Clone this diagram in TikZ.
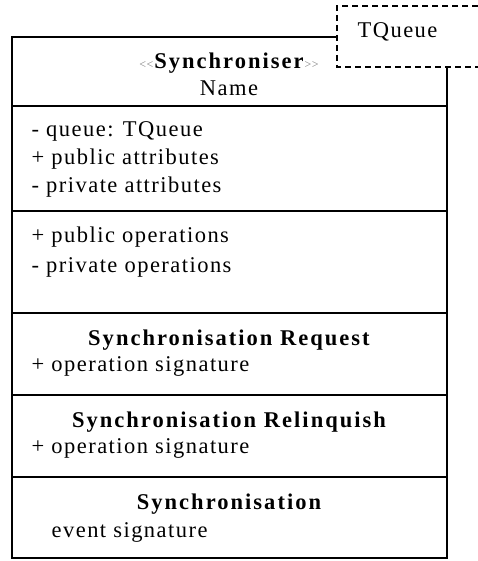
\documentclass[tikz,border=0pt]{standalone}
\usepackage{fontspec}
\setmainfont{Liberation Serif}[LetterSpace=6.5]
\newcommand{\stlq}{\textcolor{gray}{\fontsize{12}{13}\selectfont<\kern0.5pt<\kern1pt}}
\newcommand{\strq}{\textcolor{gray}{\fontsize{12}{13}\selectfont\kern1pt>\kern0.5pt>}}
\begin{document}
\begin{tikzpicture}[x=1pt,y=-1pt,
  line width=1.3pt,
  txt/.style={anchor=base west,inner sep=0pt,font=\fontsize{22.5}{27}\selectfont},
  ctxt/.style={anchor=base,inner sep=0pt,font=\fontsize{22.5}{27}\selectfont},
  head/.style={anchor=base,inner sep=0pt,font=\fontsize{22.5}{27}\selectfont\addfontfeatures{LetterSpace=9}\bfseries}]
\useasboundingbox (0,0) rectangle (478,561);
% class box outline and compartment dividers
\coordinate (tl) at (12,37);
\coordinate (tr) at (447,67);
\coordinate (bl) at (12,558);
\coordinate (br) at (447,558);
\draw (337,37) -- (tl) -- (bl) -- (br) -- (tr);
\foreach \y in {106,211,313,395,477} \draw (12,\y) -- (447,\y);
% template parameter box
\draw[line width=1.1pt,dash pattern=on 6pt off 4pt] (478,6) -- (337,6) -- (337,67) -- (478,67);
\node[txt] (tq) at (357,38) {TQueue};
% name compartment
\node[ctxt] (st) at (229,69) {\stlq{\addfontfeatures{LetterSpace=9}\bfseries Synchroniser}\strq};
\node[ctxt] (nm) at (229,96) {Name};
% attributes
\node[txt] (a1) at (31,137) {- queue: TQueue};
\node[txt] (a2) at (31,165) {+ public attributes};
\node[txt] (a3) at (31,193) {- private attributes};
% operations
\node[txt] (o1) at (31,242) {+ public operations};
\node[txt] (o2) at (31,272) {- private operations};
% synchronisation compartments
\node[head] (h1) at (229,345) {Synchronisation Request};
\node[txt] (s1) at (31,371) {+ operation signature};
\node[head] (h2) at (229,427) {Synchronisation Relinquish};
\node[txt] (s2) at (31,453) {+ operation signature};
\node[head] (h3) at (229,509) {Synchronisation};
\node[txt] (s3) at (51,537) {event signature};
\end{tikzpicture}
\end{document}
